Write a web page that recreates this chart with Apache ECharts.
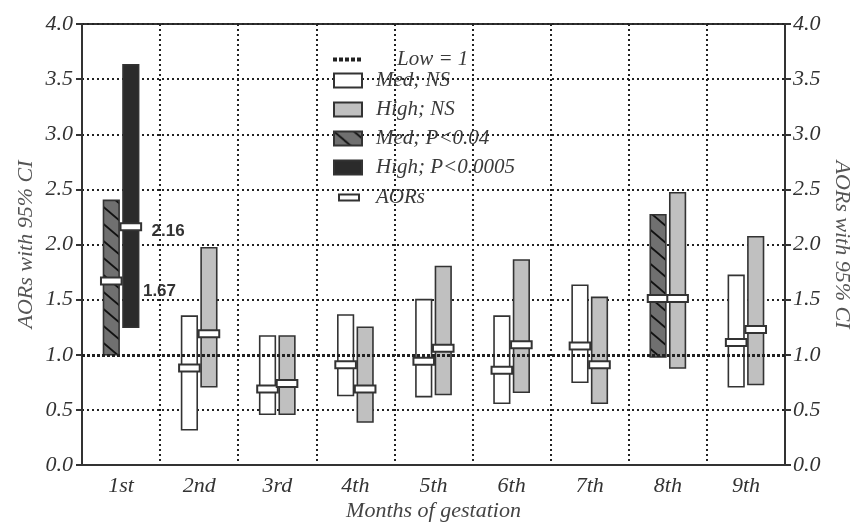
<!DOCTYPE html>
<html>
<head>
<meta charset="utf-8">
<script src="https://cdn.jsdelivr.net/npm/echarts@6/dist/echarts.min.js"></script>
<style>
  html, body { margin: 0; padding: 0; background: #fff; }
  #chart { width: 856px; height: 523px; }
</style>
</head>
<body>
<div id="chart"></div>
<script>
// Months of gestation (categories)
const months = ['1st', '2nd', '3rd', '4th', '5th', '6th', '7th', '8th', '9th'];

// Medium exposure: 95% CI bounds and adjusted odds ratios
const medLow  = [1.00, 0.32, 0.46, 0.63, 0.62, 0.56, 0.75, 0.98, 0.71];
const medHigh = [2.40, 1.35, 1.17, 1.36, 1.50, 1.35, 1.63, 2.27, 1.72];
const medAor  = [1.67, 0.88, 0.69, 0.91, 0.94, 0.86, 1.08, 1.51, 1.11];
const medSig  = [true, false, false, false, false, false, false, true, false];

// High exposure: 95% CI bounds and adjusted odds ratios
const highLow  = [1.25, 0.71, 0.46, 0.39, 0.64, 0.66, 0.56, 0.88, 0.73];
const highHigh = [3.63, 1.97, 1.17, 1.25, 1.80, 1.86, 1.52, 2.47, 2.07];
const highAor  = [2.16, 1.19, 0.74, 0.69, 1.06, 1.09, 0.91, 1.51, 1.23];
const highSig  = [true, false, false, false, false, false, false, false, false];

// Months whose AORs are written next to the bars
const showValue = [true, false, false, false, false, false, false, false, false];

// Reference category (Low exposure)
const refLevel = 1;

// Y axis ticks
const yMin = 0, yMax = 4, yStep = 0.5;

const SERIF = '"Liberation Serif", "Times New Roman", serif';
const INK = '#333';

// Diagonal hatch used for significant medium-exposure bars
function hatchPattern() {
  const w = 20, h = 17;
  const c = document.createElement('canvas');
  c.width = w; c.height = h;
  const ctx = c.getContext('2d');
  ctx.fillStyle = '#707070';
  ctx.fillRect(0, 0, w, h);
  ctx.strokeStyle = '#111';
  ctx.lineWidth = 1.8;
  for (let k = -1; k <= 1; k++) {
    ctx.beginPath();
    ctx.moveTo(-2, (h / w) * -2 + k * h);
    ctx.lineTo(w + 2, (h / w) * (w + 2) + k * h);
    ctx.stroke();
  }
  return c;
}
const hatch = { image: hatchPattern(), repeat: 'repeat' };

const FILL = {
  medNS: '#ffffff',
  highNS: '#c0c0c0',
  medSig: hatch,
  highSig: '#2b2b2b'
};

// Row of square dots for the reference-line legend entry
const dotIcon = 'path://M0,0h4v4h-4z M6,0h4v4h-4z M12,0h4v4h-4z M18,0h4v4h-4z M24,0h4v4h-4z';

// side: -1 = medium bar (left), +1 = high bar (right)
function barGeom(api, cat, side) {
  const band = api.size([1, 0])[0];
  const w = band * 0.2;
  const cx = api.coord([cat, 0])[0] + side * band * 0.125;
  return { band, w, cx };
}

function rangeRenderer(side, fill) {
  return function (params, api) {
    const cat = api.value(0);
    const lo = api.value(1), hi = api.value(2);
    const g = barGeom(api, cat, side);
    const yTop = api.coord([cat, hi])[1];
    const yBot = api.coord([cat, lo])[1];
    return {
      type: 'rect',
      shape: { x: g.cx - g.w / 2, y: yTop, width: g.w, height: yBot - yTop },
      style: { fill: fill, stroke: INK, lineWidth: 1.6 }
    };
  };
}

function buildRanges(lows, highs, sig, wantSig) {
  const out = [];
  months.forEach((m, i) => {
    if (sig[i] === wantSig) out.push([i, lows[i], highs[i]]);
  });
  return out;
}

const aorData = [];
months.forEach((m, i) => {
  aorData.push([i, medAor[i], -1, showValue[i] ? 1 : 0]);
  aorData.push([i, highAor[i], 1, showValue[i] ? 1 : 0]);
});

function aorRenderer(params, api) {
  const cat = api.value(0), v = api.value(1), side = api.value(2), lab = api.value(3);
  const g = barGeom(api, cat, side);
  const y = api.coord([cat, v])[1];
  const mw = g.w + 5, mh = 7;
  const children = [{
    type: 'rect',
    shape: { x: g.cx - mw / 2, y: y - mh / 2, width: mw, height: mh },
    style: { fill: '#fff', stroke: INK, lineWidth: 2 }
  }];
  if (lab) {
    const centre = api.coord([cat, 0])[0];
    const tx = side > 0 ? centre + g.band * 0.39 : centre + g.band * 0.28;
    const ty = side > 0 ? y + 4 : y + 10;
    children.push({
      type: 'text',
      x: tx,
      y: ty,
      style: {
        text: v.toFixed(2),
        font: 'bold 17px "Liberation Sans", Arial, sans-serif',
        fill: INK,
        align: 'left',
        verticalAlign: 'middle'
      }
    });
  }
  return { type: 'group', children };
}

const dotted = { color: '#222', width: 2, type: [2, 3] };
const refStyle = { color: '#222', width: 3, type: [3, 2] };
const legendText = { fontFamily: SERIF, fontStyle: 'italic', fontSize: 21, color: '#3a3a3a' };

const chart = echarts.init(document.getElementById('chart'), null, { renderer: 'canvas' });

chart.setOption({
  animation: false,
  backgroundColor: '#fff',
  grid: {
    left: 82, right: 71, top: 24, bottom: 58,
    containLabel: false,
    outerBoundsMode: 'none',
    show: true, borderColor: INK, borderWidth: 2, backgroundColor: 'transparent'
  },
  legend: [
    {
      data: [{ name: 'Low = 1', icon: dotIcon, itemStyle: { color: '#222', borderWidth: 0 } }],
      selectedMode: false,
      left: 328, top: 44,
      itemWidth: 28, itemHeight: 14,
      textStyle: Object.assign({}, legendText, { padding: [0, 0, 0, 31] })
    },
    {
      data: [
        { name: 'Med; NS', icon: 'rect', itemStyle: { color: FILL.medNS, borderColor: INK, borderWidth: 2 } },
        { name: 'High; NS', icon: 'rect', itemStyle: { color: FILL.highNS, borderColor: INK, borderWidth: 2 } },
        { name: 'Med; P<0.04', icon: 'rect', itemStyle: { color: FILL.medSig, borderColor: INK, borderWidth: 2 } },
        { name: 'High; P<0.0005', icon: 'rect', itemStyle: { color: FILL.highSig, borderColor: INK, borderWidth: 2 } }
      ],
      selectedMode: false,
      orient: 'vertical',
      left: 328, top: 65,
      itemWidth: 28, itemHeight: 14, itemGap: 8,
      textStyle: Object.assign({}, legendText, { padding: [0, 0, 0, 9] })
    },
    {
      data: [{ name: 'AORs', icon: 'rect', itemStyle: { color: '#fff', borderColor: INK, borderWidth: 2 } }],
      selectedMode: false,
      left: 333, top: 182,
      itemWidth: 20, itemHeight: 6,
      textStyle: Object.assign({}, legendText, { padding: [0, 0, 0, 12] })
    }
  ],
  xAxis: {
    type: 'category',
    data: months,
    boundaryGap: true,
    name: 'Months of gestation',
    nameLocation: 'middle',
    nameGap: 35,
    nameMoveOverlap: false,
    nameTextStyle: { fontFamily: SERIF, fontStyle: 'italic', fontSize: 22, color: '#444' },
    axisLine: { lineStyle: { color: INK, width: 2 } },
    axisTick: { show: false },
    axisLabel: { fontFamily: SERIF, fontStyle: 'italic', fontSize: 22, color: INK, margin: 10 },
    splitLine: { show: true, lineStyle: dotted }
  },
  yAxis: [
    {
      type: 'value', min: yMin, max: yMax, interval: yStep,
      position: 'left',
      name: 'AORs with 95% CI',
      nameLocation: 'middle', nameRotate: 90, nameGap: 45,
      nameMoveOverlap: false,
      nameTextStyle: { fontFamily: SERIF, fontStyle: 'italic', fontSize: 22, color: '#555' },
      axisLine: { show: true, lineStyle: { color: INK, width: 2 } },
      axisTick: { show: true, length: 6, lineStyle: { color: INK, width: 2 } },
      axisLabel: { formatter: v => v.toFixed(1), fontFamily: SERIF, fontStyle: 'italic', fontSize: 22, color: INK, margin: 9 },
      splitLine: { show: true, lineStyle: dotted }
    },
    {
      type: 'value', min: yMin, max: yMax, interval: yStep,
      position: 'right',
      name: 'AORs with 95% CI',
      nameLocation: 'middle', nameRotate: -90, nameGap: 46,
      nameMoveOverlap: false,
      nameTextStyle: { fontFamily: SERIF, fontStyle: 'italic', fontSize: 22, color: '#555' },
      axisLine: { show: true, lineStyle: { color: INK, width: 2 } },
      axisTick: { show: true, length: 6, lineStyle: { color: INK, width: 2 } },
      axisLabel: { formatter: v => v.toFixed(1), fontFamily: SERIF, fontStyle: 'italic', fontSize: 22, color: INK, margin: 8 },
      splitLine: { show: false }
    }
  ],
  series: [
    {
      name: 'Med; NS', type: 'custom', z: 2,
      renderItem: rangeRenderer(-1, FILL.medNS),
      itemStyle: { color: FILL.medNS, borderColor: INK, borderWidth: 2 },
      encode: { x: 0, y: [1, 2] },
      data: buildRanges(medLow, medHigh, medSig, false)
    },
    {
      name: 'High; NS', type: 'custom', z: 2,
      renderItem: rangeRenderer(1, FILL.highNS),
      itemStyle: { color: FILL.highNS, borderColor: INK, borderWidth: 2 },
      encode: { x: 0, y: [1, 2] },
      data: buildRanges(highLow, highHigh, highSig, false)
    },
    {
      name: 'Med; P<0.04', type: 'custom', z: 2,
      renderItem: rangeRenderer(-1, FILL.medSig),
      itemStyle: { color: FILL.medSig, borderColor: INK, borderWidth: 2 },
      encode: { x: 0, y: [1, 2] },
      data: buildRanges(medLow, medHigh, medSig, true)
    },
    {
      name: 'High; P<0.0005', type: 'custom', z: 2,
      renderItem: rangeRenderer(1, FILL.highSig),
      itemStyle: { color: FILL.highSig, borderColor: INK, borderWidth: 2 },
      encode: { x: 0, y: [1, 2] },
      data: buildRanges(highLow, highHigh, highSig, true)
    },
    {
      name: 'Low = 1', type: 'line', z: 4,
      symbol: 'none',
      itemStyle: { color: '#222' },
      lineStyle: { color: '#222', width: 4, type: [4, 2] },
      data: [],
      markLine: {
        silent: true, symbol: 'none', z: 4,
        label: { show: false },
        lineStyle: refStyle,
        data: [{ yAxis: refLevel }]
      }
    },
    {
      name: 'AORs', type: 'custom', z: 5,
      renderItem: aorRenderer,
      itemStyle: { color: '#fff', borderColor: INK, borderWidth: 2 },
      encode: { x: 0, y: 1 },
      data: aorData
    }
  ]
});
</script>
</body>
</html>
